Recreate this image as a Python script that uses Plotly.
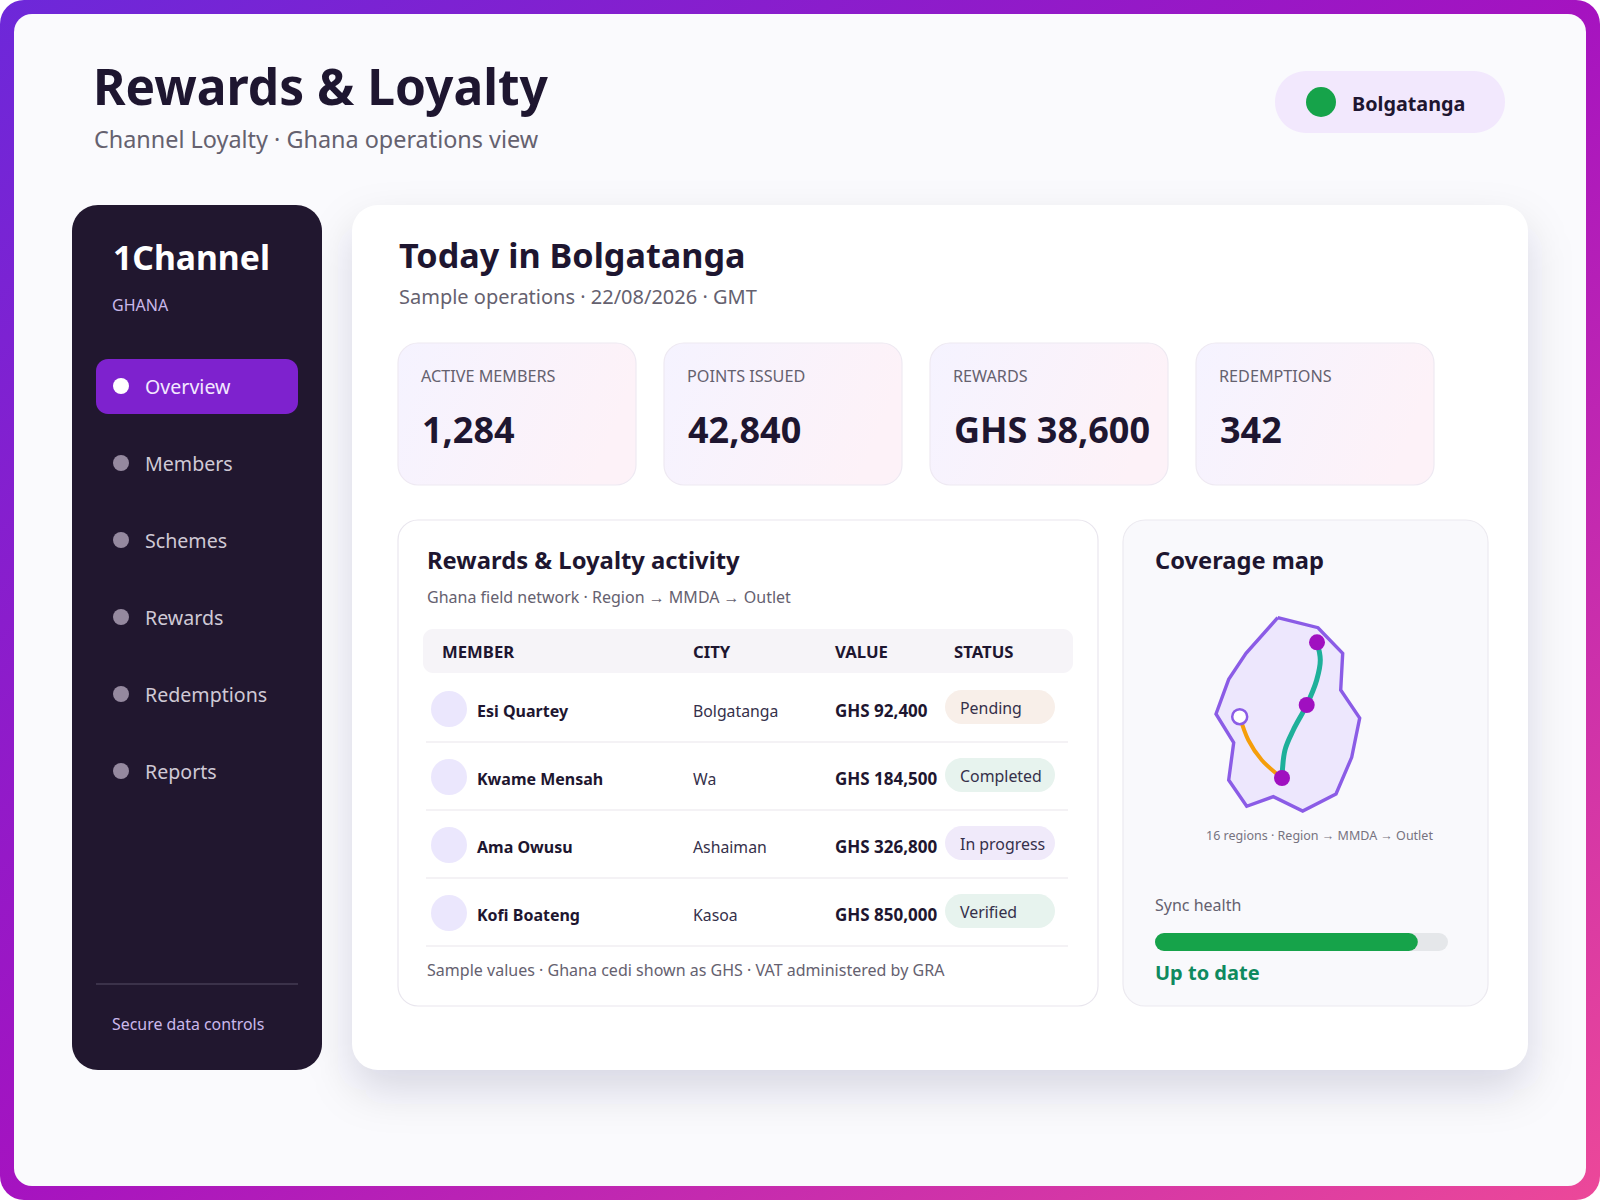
import base64
import plotly.graph_objects as go

# ---------- data ----------
TITLE = "Rewards & Loyalty"
SUBTITLE = "Channel Loyalty · Ghana operations view"
CITY_NAME = "Bolgatanga"
BRAND = "1Channel"
COUNTRY = "GHANA"
NAV_ITEMS = ["Overview", "Members", "Schemes", "Rewards", "Redemptions", "Reports"]
SECURE = "Secure data controls"
HEADING = "Today in Bolgatanga"
HEADING_SUB = "Sample operations · 22/08/2026 · GMT"
KPI_LABELS = ["ACTIVE MEMBERS", "POINTS ISSUED", "REWARDS", "REDEMPTIONS"]
KPI_VALUES = ["1,284", "42,840", "GHS 38,600", "342"]
ACTIVITY_TITLE = "Rewards & Loyalty activity"
ACTIVITY_SUB = "Ghana field network · Region → MMDA → Outlet"
COLUMNS = ["MEMBER", "CITY", "VALUE", "STATUS"]
MEMBERS = ["Esi Quartey", "Kwame Mensah", "Ama Owusu", "Kofi Boateng"]
CITIES = ["Bolgatanga", "Wa", "Ashaiman", "Kasoa"]
VALUES_GHS = [92400, 184500, 326800, 850000]
STATUSES = ["Pending", "Completed", "In progress", "Verified"]
FOOTNOTE = "Sample values · Ghana cedi shown as GHS · VAT administered by GRA"
MAP_TITLE = "Coverage map"
MAP_CAPTION = "16 regions · Region → MMDA → Outlet"
SYNC_LABEL = "Sync health"
SYNC_STATE = "Up to date"
SYNC_HEALTH = 0.897

MAP_X = [1277.7, 1318, 1342.7, 1340.7, 1359.7, 1351.7, 1336, 1302.7, 1273.3, 1246.7, 1228.7, 1233.7, 1216, 1228.7, 1246, 1277.7]
MAP_Y = [617.7, 627.7, 653.3, 690, 718, 757.3, 794, 811, 796.7, 806.3, 780, 742.7, 714, 679.3, 653.3, 617.7]
TEAL_X = [1317, 1320.3, 1316.7, 1306.7, 1293.3, 1285, 1282]
TEAL_Y = [642.3, 660, 680, 705, 730, 750, 778]
ORANGE_X = [1239.7, 1248.3, 1261.7, 1282]
ORANGE_Y = [716.7, 740, 760, 778]
HUB_X = [1317, 1306.7, 1282]
HUB_Y = [642.3, 705, 778]
OUTLET_X = [1239.7]
OUTLET_Y = [716.7]

# ---------- styles ----------
FONT = "Noto Sans"
INK = "#1e1630"
GREY = "#65616f"
STATUS_BG = {"Pending": "#f8efe9", "Completed": "#e7f3ee", "In progress": "#f0eafa", "Verified": "#e7f3ee"}

shapes, notes = [], []


def rr(x0, y0, x1, y1, r):
    k = r * 0.4477
    return (f"M{x0+r},{y0} L{x1-r},{y0} C{x1-k},{y0} {x1},{y0+k} {x1},{y0+r} "
            f"L{x1},{y1-r} C{x1},{y1-k} {x1-k},{y1} {x1-r},{y1} "
            f"L{x0+r},{y1} C{x0+k},{y1} {x0},{y1-k} {x0},{y1-r} "
            f"L{x0},{y0+r} C{x0},{y0+k} {x0+k},{y0} {x0+r},{y0} Z")


def box(x0, y0, x1, y1, r, fill, line=None, lw=1):
    shapes.append(dict(type="path", path=rr(x0, y0, x1, y1, r), fillcolor=fill,
                       line=dict(color=line or "rgba(0,0,0,0)", width=lw if line else 0),
                       layer="below", xref="x", yref="y"))


def dot(cx, cy, r, fill):
    shapes.append(dict(type="circle", x0=cx-r, x1=cx+r, y0=cy-r, y1=cy+r, fillcolor=fill,
                       line=dict(width=0), layer="below", xref="x", yref="y"))


def rule(x0, x1, y, color):
    shapes.append(dict(type="line", x0=x0, x1=x1, y0=y, y1=y, line=dict(color=color, width=1.5),
                       layer="below", xref="x", yref="y"))


def text(x, y, s, size, color, bold=False, family=FONT):
    notes.append(dict(x=x - 1, y=y - 1.5, xref="x", yref="y", text=f"<b>{s}</b>" if bold else s, showarrow=False,
                      xanchor="left", yanchor="middle", borderpad=0,
                      font=dict(family=family, size=size, color=color)))


# backdrop: gradient frame, soft shadows and KPI gradients
KPI_X = [398, 664, 930, 1196]
KPI_W = 238
KPI_Y0, KPI_Y1 = 343, 485
kpi_svg = "".join(f'<rect x="{x}" y="{KPI_Y0}" width="{KPI_W}" height="{KPI_Y1-KPI_Y0}" rx="20" fill="url(#k)"/>' for x in KPI_X)
svg = f'''<svg xmlns="http://www.w3.org/2000/svg" width="1600" height="1200" viewBox="0 0 1600 1200">
<defs>
<linearGradient id="g" x1="0" y1="0" x2="1" y2="1"><stop offset="0" stop-color="#6d28d9"/><stop offset=".5" stop-color="#a513c0"/><stop offset="1" stop-color="#ec4899"/></linearGradient>
<linearGradient id="k" x1="0" y1="0" x2="1" y2="0.25"><stop offset="0" stop-color="#f5f3ff"/><stop offset="1" stop-color="#fdf2f8"/></linearGradient>
<filter id="b" x="-20%" y="-20%" width="140%" height="140%"><feGaussianBlur stdDeviation="22"/></filter>
</defs>
<rect width="1600" height="1200" fill="#ffffff"/>
<rect width="1600" height="1200" rx="24" fill="url(#g)"/>
<rect x="14" y="14" width="1572" height="1172" rx="18" fill="#fafafd"/>
<rect x="352" y="225" width="1176" height="865" rx="26" fill="#1e1440" fill-opacity=".14" filter="url(#b)"/>
<rect x="352" y="205" width="1176" height="865" rx="26" fill="#ffffff"/>
{kpi_svg}
</svg>'''
BACKDROP = "data:image/svg+xml;base64," + base64.b64encode(svg.encode()).decode()

# header
text(93, 87, TITLE, 49.7, INK, True)
text(94, 140, SUBTITLE, 23.4, GREY)
box(1275, 71, 1505, 133, 31, "#f2e8fd")
dot(1321, 102, 15, "#16a34a")
text(1352, 105, CITY_NAME, 19.8, INK, True)

# sidebar
box(72, 205, 322, 1070, 26, "#21172f")
text(113, 258, BRAND, 33.7, "#ffffff", True)
text(112, 306, COUNTRY, 16, "#c9b8ea")
NAV_Y0, NAV_STEP = 386, 77
box(96, 359, 298, 414, 12, "#7e22ce")
for i, item in enumerate(NAV_ITEMS):
    y = NAV_Y0 + NAV_STEP * i
    dot(121, y, 8, "#ffffff" if i == 0 else "#95899f")
    text(145, y + 1.5, item, 19.6, "#f3e8ff" if i == 0 else "#cfc9d5")
rule(96, 298, 984, "#453c55")
text(112, 1025, SECURE, 15.9, "#cbb9ec")

# main
text(399, 256, HEADING, 34.2, INK, True)
text(399, 298, HEADING_SUB, 20, GREY)
for x, lab, val in zip(KPI_X, KPI_LABELS, KPI_VALUES):
    box(x, KPI_Y0, x + KPI_W, KPI_Y1, 20, "rgba(0,0,0,0)", "#eee9f2", 1.2)
    text(x + 23, 377, lab, 16.2, GREY)
    text(x + 23.5, 431, val, 36, INK, True)

# activity table
box(398, 520, 1098, 1006, 20, "#ffffff", "#e9e6ee", 1.2)
text(427, 561, ACTIVITY_TITLE, 23.8, INK, True)
text(427, 598, ACTIVITY_SUB, 16, GREY)
box(423, 629, 1073, 673, 10, "#f6f4f8")
COL_X = [442, 693, 835, 954]
for x, c in zip(COL_X, COLUMNS):
    text(x, 653, c, 16.7, INK, True)
ROW_Y0, ROW_STEP = 712, 68
for i in range(4):
    y = ROW_Y0 + ROW_STEP * i
    dot(449, y - 3, 18, "#ebe7fd")
    text(477, y, MEMBERS[i], 16, INK, True)
    text(693, y, CITIES[i], 15.8, "#35304a")
    text(835, y, f"GHS {VALUES_GHS[i]:,}", 17, INK, True)
    box(945, y - 22, 1055, y + 12, 17, STATUS_BG[STATUSES[i]])
    text(960, y - 3, STATUSES[i], 15.9, "#35304a")
    rule(426, 1068, y + 30, "#f0eef2")
text(427, 971, FOOTNOTE, 16.05, GREY)

# coverage card
box(1123, 520, 1488, 1006, 22, "#f9f9fc", "#eceaf0", 1.2)
text(1155, 561, MAP_TITLE, 23.7, INK, True)
text(1206, 837, MAP_CAPTION, 12.5, "#77737f")
text(1155, 906, SYNC_LABEL, 16, GREY)
text(1155, 974, SYNC_STATE, 20, "#0f8a5f", True)

TRACK_X0, TRACK_W, TRACK_Y = 1155, 293, 942
fig = go.Figure()
fig.add_trace(go.Bar(x=[TRACK_W], base=[TRACK_X0], y=[TRACK_Y], width=[18], orientation="h", marker=dict(color="#e5e7ea", line_width=0), hoverinfo="skip"))
fig.add_trace(go.Bar(x=[TRACK_W * SYNC_HEALTH], base=[TRACK_X0], y=[TRACK_Y], width=[18], orientation="h", marker=dict(color="#16a34a", line_width=0), hoverinfo="skip"))
fig.add_trace(go.Scatter(x=MAP_X, y=MAP_Y, mode="lines", fill="toself", fillcolor="#ede7fd", line=dict(color="#8b5ce6", width=3.4), hoverinfo="skip"))
fig.add_trace(go.Scatter(x=TEAL_X, y=TEAL_Y, mode="lines", line=dict(color="#1eb09a", width=5, shape="spline"), hoverinfo="skip"))
fig.add_trace(go.Scatter(x=ORANGE_X, y=ORANGE_Y, mode="lines", line=dict(color="#f59e0b", width=4, shape="spline"), hoverinfo="skip"))
fig.add_trace(go.Scatter(x=HUB_X, y=HUB_Y, mode="markers", marker=dict(color="#a010c0", size=16, line_width=0), hoverinfo="skip"))
fig.add_trace(go.Scatter(x=OUTLET_X, y=OUTLET_Y, mode="markers", marker=dict(color="#ffffff", size=15, line=dict(color="#8b5ce6", width=2.5)), hoverinfo="skip"))

fig.update_layout(
    width=1600, height=1200, margin=dict(l=0, r=0, t=0, b=0), autosize=False,
    showlegend=False, barmode="overlay", barcornerradius=9,
    paper_bgcolor="#ffffff", plot_bgcolor="rgba(0,0,0,0)",
    xaxis=dict(range=[0, 1600], visible=False, fixedrange=True),
    yaxis=dict(range=[1200, 0], visible=False, fixedrange=True),
    images=[dict(source=BACKDROP, xref="paper", yref="paper", x=0, y=1, sizex=1, sizey=1,
                 sizing="stretch", xanchor="left", yanchor="top", layer="below")],
    shapes=shapes, annotations=notes, font=dict(family=FONT),
)
fig.write_html("out.html", config={"displayModeBar": False},
               post_script="document.body.style.margin='0';document.documentElement.style.overflow='hidden';")
